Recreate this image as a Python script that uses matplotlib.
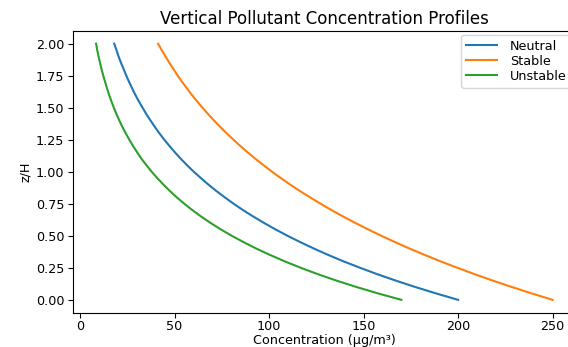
import matplotlib

matplotlib.use("Agg")
from matplotlib import pyplot as plt

# heights (z/H) and concentration, µg/m³
z_levels = [0.0, 0.05, 0.1, 0.15, 0.2, 0.25, 0.3, 0.35, 0.4, 0.45, 0.5,
            0.55, 0.6, 0.65, 0.7, 0.75, 0.8, 0.85, 0.9, 0.95, 1.0,
            1.05, 1.1, 1.15, 1.2, 1.25, 1.3, 1.35, 1.4, 1.45, 1.5,
            1.55, 1.6, 1.65, 1.7, 1.75, 1.8, 1.85, 1.9, 1.95, 2.0]
neutral = [200.0, 188.4, 177.4, 167.1, 157.3, 148.2, 139.5, 131.4, 123.8, 116.6, 109.8,
           103.4, 97.4, 91.7, 86.3, 81.3, 76.6, 72.1, 67.9, 64.0, 60.2,
           56.7, 53.4, 50.3, 47.4, 44.6, 42.0, 39.6, 37.3, 35.1, 33.1,
           31.1, 29.3, 27.6, 26.0, 24.5, 23.1, 21.7, 20.4, 19.3, 18.1]
stable = [250.0, 239.0, 228.5, 218.4, 208.8, 199.7, 190.8, 182.5, 174.4, 166.8, 159.4,
          152.4, 145.7, 139.3, 133.1, 127.3, 121.7, 116.3, 111.2, 106.3, 101.6,
          97.2, 92.9, 88.8, 84.9, 81.2, 77.6, 74.2, 70.9, 67.8, 64.8,
          61.9, 59.2, 56.6, 54.1, 51.7, 49.5, 47.3, 45.2, 43.2, 41.3]
unstable = [170.0, 157.7, 146.3, 135.7, 125.9, 116.8, 108.4, 100.6, 93.3, 86.6, 80.3,
            74.5, 69.1, 64.1, 59.5, 55.2, 51.2, 47.5, 44.1, 40.9, 37.9,
            35.2, 32.6, 30.3, 28.1, 26.1, 24.2, 22.4, 20.8, 19.3, 17.9,
            16.6, 15.4, 14.3, 13.3, 12.3, 11.4, 10.6, 9.8, 9.1, 8.5]

TICK_FONTSIZE = 9.2
LABEL_FONTSIZE = 9.2
LEGEND_FONTSIZE = 9.2
TITLE_FONTSIZE = 12

fig = plt.figure(figsize=(5.68, 3.47), dpi=100, facecolor="white")
# the reference is cropped: the right spine sits just past the image edge
ax = fig.add_axes([0.129, 0.099, 0.884, 0.812])

ax.plot(neutral, z_levels, label="Neutral")
ax.plot(stable, z_levels, label="Stable")
ax.plot(unstable, z_levels, label="Unstable")

ax.set_title("Vertical Pollutant Concentration Profiles", fontsize=TITLE_FONTSIZE, pad=5)
ax.set_xlabel("Concentration (µg/m³)", fontsize=LABEL_FONTSIZE, labelpad=0.5)
ax.set_ylabel("z/H", fontsize=LABEL_FONTSIZE, labelpad=3)
ax.tick_params(axis="x", labelsize=TICK_FONTSIZE, pad=2)
ax.tick_params(axis="y", labelsize=TICK_FONTSIZE, pad=3)
ax.legend(loc="upper right", fontsize=LEGEND_FONTSIZE, labelspacing=0.15,
          borderaxespad=0.3, handlelength=2.4, handletextpad=1.0)

fig.savefig("out.png", dpi=100, facecolor="white")
plt.close(fig)
